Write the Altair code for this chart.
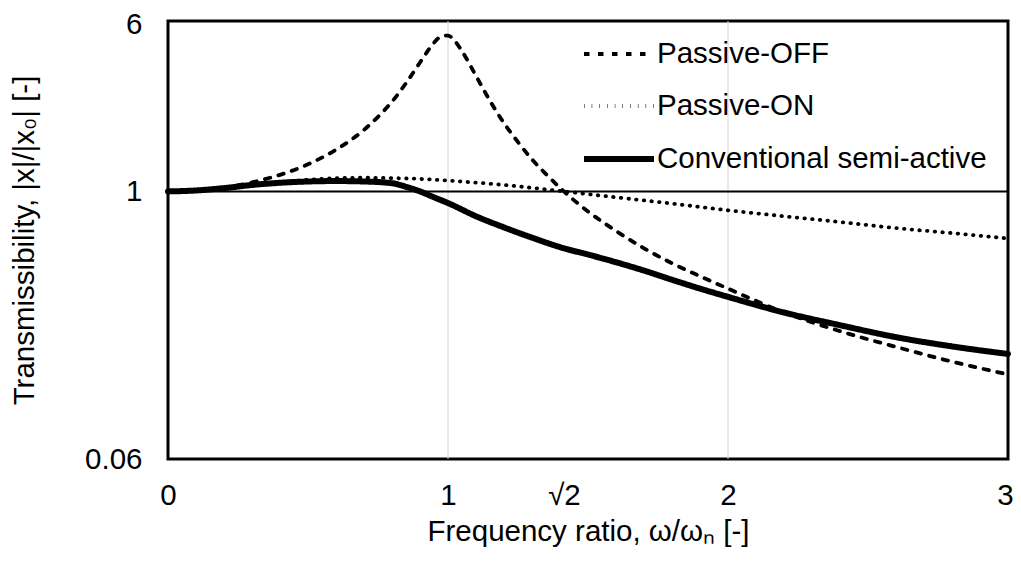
import altair as alt
import pandas as pd

SERIES = ["Passive-OFF", "Passive-ON", "Conventional semi-active"]

OFF_X = [0, 0.1, 0.2, 0.3, 0.4, 0.5, 0.6, 0.7, 0.75, 0.8, 0.85, 0.9, 0.95, 0.975, 1.0,
         1.025, 1.05, 1.1, 1.15, 1.2, 1.25, 1.3, 1.35, 1.414, 1.5, 1.6, 1.7, 1.8, 1.9,
         2.0, 2.2, 2.4, 2.6, 2.8, 3.0]
OFF_Y = [1.0, 1.01, 1.04, 1.10, 1.19, 1.33, 1.55, 1.91, 2.19, 2.57, 3.12, 3.88, 4.77, 5.10, 5.15,
         4.85, 4.37, 3.37, 2.59, 2.05, 1.68, 1.40, 1.20, 1.0, 0.81, 0.66, 0.55, 0.47, 0.41,
         0.36, 0.28, 0.23, 0.195, 0.167, 0.146]

ON_X = [0, 0.1, 0.2, 0.3, 0.4, 0.5, 0.6, 0.7, 0.8, 0.9, 1.0, 1.2, 1.414, 1.6, 1.8, 2.0,
        2.2, 2.4, 2.6, 2.8, 3.0]
ON_Y = [1.0, 1.01, 1.035, 1.07, 1.10, 1.13, 1.15, 1.155, 1.15, 1.14, 1.12, 1.07, 1.0, 0.94,
        0.88, 0.82, 0.77, 0.725, 0.68, 0.645, 0.61]

SEMI_X = [0, 0.1, 0.2, 0.3, 0.4, 0.5, 0.6, 0.7, 0.8, 0.85, 0.9, 0.95, 1.0, 1.1, 1.2, 1.3,
          1.414, 1.5, 1.6, 1.7, 1.8, 1.9, 2.0, 2.2, 2.4, 2.6, 2.8, 3.0]
SEMI_Y = [1.0, 1.01, 1.035, 1.07, 1.095, 1.11, 1.115, 1.11, 1.09, 1.05, 1.0, 0.94, 0.885,
          0.77, 0.685, 0.615, 0.55, 0.515, 0.475, 0.435, 0.395, 0.36, 0.33, 0.28, 0.245,
          0.216, 0.196, 0.181]

X_TICKS = [0, 1, 1.41421356, 2, 3]
Y_TICKS = [0.06, 1, 6]
GRID_X = [1, 2]
REF_Y = [1]

DASHES = [[5.5, 8.5], [0.5, 7.2], [1, 0]]
WIDTHS = [3.8, 3.8, 6]

rows = []
for name, xs, ys in [(SERIES[0], OFF_X, OFF_Y), (SERIES[1], ON_X, ON_Y), (SERIES[2], SEMI_X, SEMI_Y)]:
    for i, (x, y) in enumerate(zip(xs, ys)):
        rows.append({"series": name, "x": x, "y": y, "order": i})
df = pd.DataFrame(rows)

FONT = "Liberation Sans"
FS = 29.5

x_scale = alt.Scale(domain=[0, 3], nice=False, zero=False)
y_scale = alt.Scale(type="log", domain=[0.06, 6], nice=False)

grid = alt.Chart(pd.DataFrame({"x": GRID_X})).mark_rule(color="#d4d4d4", strokeWidth=1).encode(
    x=alt.X("x:Q", scale=x_scale)
)
ref = alt.Chart(pd.DataFrame({"y": REF_Y})).mark_rule(color="black", strokeWidth=2).encode(
    y=alt.Y("y:Q", scale=y_scale)
)

legend = alt.Legend(
    title=None, orient="none", legendX=413, legendY=-4,
    labelFontSize=FS, labelFont=FONT, labelColor="black", labelLimit=0,
    symbolType="stroke", symbolSize=4900, symbolStrokeColor="black",
    labelOffset=0, rowPadding=0,
)

lines = alt.Chart(df).mark_line(color="black", interpolate="monotone", strokeCap="round").encode(
    x=alt.X("x:Q", scale=x_scale,
            axis=alt.Axis(values=X_TICKS, format="~g",
                          labelExpr="abs(datum.value - 1.41421356) < 0.001 ? '√2' : datum.label",
                          labelOffset={"condition": {"test": "datum.value == 3", "value": -3}, "value": 0},
                          title="Frequency ratio, ω/ωₙ [-]", grid=False, ticks=False, domain=False,
                          labelFontSize=FS, titleFontSize=FS, labelPadding=22, titlePadding=8,
                          labelFont=FONT, titleFont=FONT, titleFontWeight="normal",
                          labelColor="black", titleColor="black", labelFlush=False)),
    y=alt.Y("y:Q", scale=y_scale,
            axis=alt.Axis(values=Y_TICKS, format="~g",
                          labelOffset={"condition": {"test": "datum.value == 6", "value": 3},
                                       "value": 0},
                          title="Transmissibility, |x|/|x₀| [-]", grid=False, ticks=False, domain=False,
                          labelFontSize=FS, titleFontSize=FS, labelPadding=26, titlePadding=45,
                          labelFont=FONT, titleFont=FONT, titleFontWeight="normal",
                          labelColor="black", titleColor="black", labelFlush=False)),
    strokeDash=alt.StrokeDash("series:O", sort=SERIES,
                              scale=alt.Scale(type="ordinal", domain=SERIES, range=DASHES),
                              legend=legend),
    strokeWidth=alt.StrokeWidth("series:O", sort=SERIES,
                                scale=alt.Scale(type="ordinal", domain=SERIES, range=WIDTHS),
                                legend=legend),
    detail="series:N",
    order="order:Q",
)

chart = alt.layer(grid, ref, lines).properties(
    width=840, height=438,
    autosize=alt.AutoSizeParams(type="none"),
    padding={"left": 160, "top": 13, "right": 5, "bottom": 98},
).configure(background="white").configure_view(stroke="black", strokeWidth=3)

chart.save("out.html", embed_options={"renderer": "svg", "actions": False})
